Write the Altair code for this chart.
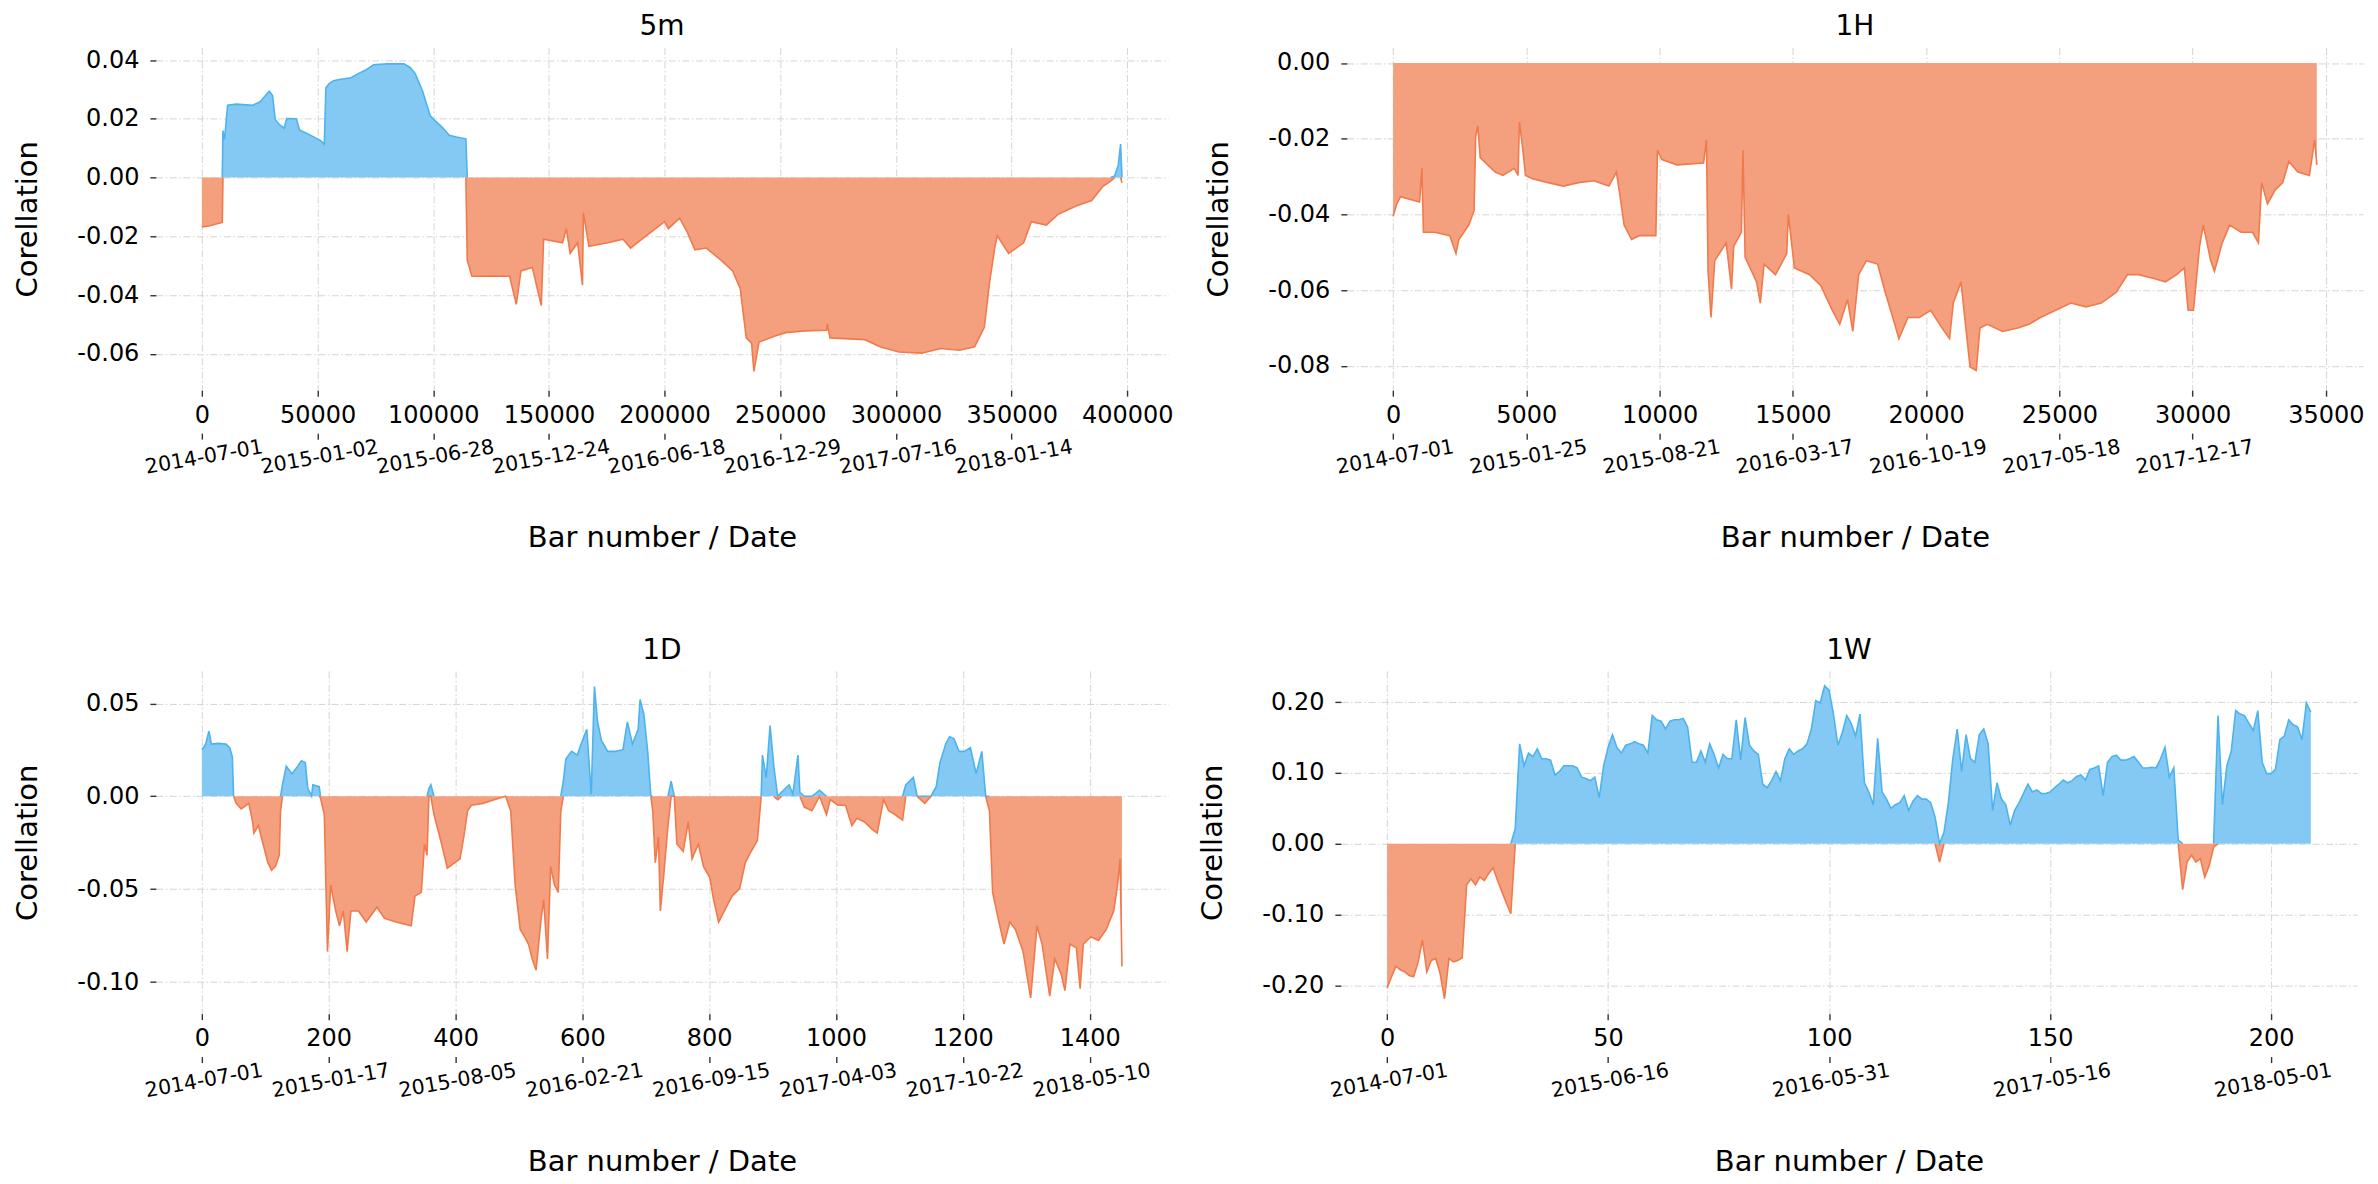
import altair as alt
import pandas as pd

FONT = "DejaVu Sans"
BLUE_FILL = "#83C9F3"
BLUE_LINE = "#4DB3EE"
ORANGE_FILL = "#F4A07F"
ORANGE_LINE = "#F07A4C"

# ---------------- 5m ----------------
m5_x = [0, 3000, 8800, 9100, 9800, 11100, 15000, 21900, 25200, 27000, 29100, 30500, 31700, 33500,
        35600, 36600, 40800, 42200, 46000, 51300, 52900, 53600, 55000, 56900, 60000, 64400, 67600,
        70800, 74200, 80000, 87300, 90000, 92200, 95400, 98700, 101000, 104000, 106900, 110000,
        114100, 114700, 116700, 125000, 133000, 135900, 137900, 142800, 146700, 147700, 155900,
        157500, 159200, 162400, 164500, 164900, 167300, 175500, 182000, 185300, 190200, 195100,
        200000, 201600, 206500, 209800, 213100, 218000, 224500, 229400, 232700, 235300, 237600,
        238600, 240800, 247400, 252300, 260500, 270000, 270300, 271500, 286600, 293100, 301300,
        311100, 319300, 327500, 334000, 338200, 340500, 342800, 343800, 348700, 355200, 358500,
        365000, 369900, 373200, 378100, 384600, 389500, 392800, 394500, 396100, 397100, 397700]
m5_v = [-0.0168, -0.0165, -0.0153, 0.0160, 0.0130, 0.0246, 0.0250, 0.0246, 0.0258, 0.0275, 0.0294,
        0.0280, 0.0198, 0.0180, 0.0168, 0.0201, 0.0200, 0.0162, 0.0148, 0.0126, 0.0114, 0.0306,
        0.0320, 0.0330, 0.0335, 0.0340, 0.0354, 0.0366, 0.0384, 0.0387, 0.0387, 0.0375, 0.0354,
        0.0294, 0.0210, 0.0192, 0.0170, 0.0144, 0.0138, 0.0132, -0.0282, -0.0336, -0.0335,
        -0.0336, -0.0432, -0.0318, -0.0306, -0.0436, -0.0210, -0.0222, -0.0174, -0.0258, -0.0222,
        -0.0366, -0.0120, -0.0234, -0.0222, -0.0210, -0.0240, -0.0210, -0.0180, -0.0150, -0.0174,
        -0.0138, -0.0186, -0.0246, -0.0240, -0.0282, -0.0318, -0.0378, -0.0546, -0.0564, -0.0660,
        -0.0560, -0.0540, -0.0528, -0.0522, -0.0520, -0.0498, -0.0546, -0.0552, -0.0576, -0.0594,
        -0.0598, -0.0582, -0.0588, -0.0576, -0.0510, -0.0354, -0.0234, -0.0198, -0.0258, -0.0222,
        -0.0150, -0.0162, -0.0126, -0.0114, -0.0096, -0.0078, -0.0030, -0.0012, 0.0005, 0.0042,
        0.0114, -0.0018]
m5_xticks = [0, 50000, 100000, 150000, 200000, 250000, 300000, 350000, 400000]
m5_yticks = [-0.06, -0.04, -0.02, 0.00, 0.02, 0.04]
m5_dates = ["2014-07-01", "2015-01-02", "2015-06-28", "2015-12-24", "2016-06-18",
            "2016-12-29", "2017-07-16", "2018-01-14"]

# ---------------- 1H ----------------
h1_x = [0, 142, 280, 994, 1080, 1140, 1560, 2130, 2360, 2470, 2840, 3040, 3100, 3180, 3270, 3550,
        3835, 4120, 4550, 4690, 4740, 4860, 4970, 5260, 5820, 6390, 6960, 7530, 8100, 8380, 8520,
        8670, 8950, 9230, 9860, 9920, 10090, 10650, 11650, 11760, 11820, 11930, 12070, 12500,
        12700, 12780, 13070, 13130, 13210, 13640, 13780, 13920, 14350, 14770, 14830, 15060, 15630,
        16050, 16480, 16760, 17050, 17250, 17470, 17760, 18180, 18470, 18750, 18980, 19320, 19750,
        20170, 20600, 20880, 21020, 21310, 21450, 21650, 21880, 22020, 22300, 22870, 23440, 23860,
        24290, 24860, 25430, 26000, 26570, 27130, 27560, 27980, 28550, 28980, 29400, 29690, 29830,
        30030, 30260, 30400, 30680, 30820, 31110, 31390, 31820, 32250, 32470, 32590, 32810, 33100,
        33380, 33610, 33950, 34380, 34580, 34660]
h1_v = [-0.0405, -0.0372, -0.0353, -0.0367, -0.0278, -0.0447, -0.0447, -0.0456, -0.0503, -0.0466,
        -0.0428, -0.0390, -0.0194, -0.0166, -0.0250, -0.0269, -0.0288, -0.0297, -0.0278, -0.0297,
        -0.0156, -0.0222, -0.0297, -0.0306, -0.0316, -0.0325, -0.0316, -0.0311, -0.0325, -0.0288,
        -0.0353, -0.0428, -0.0466, -0.0456, -0.0456, -0.0231, -0.0255, -0.0269, -0.0264, -0.0203,
        -0.0550, -0.0672, -0.0522, -0.0475, -0.0597, -0.0484, -0.0447, -0.0231, -0.0513, -0.0578,
        -0.0634, -0.0531, -0.0559, -0.0503, -0.0400, -0.0541, -0.0559, -0.0588, -0.0653, -0.0690,
        -0.0625, -0.0709, -0.0559, -0.0522, -0.0531, -0.0606, -0.0672, -0.0728, -0.0672, -0.0672,
        -0.0653, -0.0700, -0.0728, -0.0634, -0.0578, -0.0672, -0.0803, -0.0812, -0.0700, -0.0690,
        -0.0709, -0.0700, -0.0690, -0.0672, -0.0653, -0.0634, -0.0644, -0.0634, -0.0606, -0.0559,
        -0.0559, -0.0569, -0.0578, -0.0559, -0.0541, -0.0653, -0.0653, -0.0484, -0.0428, -0.0522,
        -0.0550, -0.0475, -0.0428, -0.0447, -0.0447, -0.0475, -0.0316, -0.0372, -0.0335, -0.0316,
        -0.0260, -0.0288, -0.0297, -0.0203, -0.0269]
h1_xticks = [0, 5000, 10000, 15000, 20000, 25000, 30000, 35000]
h1_yticks = [-0.08, -0.06, -0.04, -0.02, 0.00]
h1_dates = ["2014-07-01", "2015-01-25", "2015-08-21", "2016-03-17", "2016-10-19",
            "2017-05-18", "2017-12-17"]

# ---------------- 1D ----------------
d1_x = [0, 6, 11, 15, 26, 38, 44, 48, 50, 54, 62, 74, 80, 82, 89, 98, 104, 110, 116, 122, 124, 127,
        133, 142, 149, 157, 163, 167, 173, 175, 185, 187, 193, 198, 203, 211, 217, 223, 229, 235,
        247, 259, 276, 288, 306, 330, 336, 346, 351, 355, 358, 361, 366, 378, 387, 399, 407, 413,
        419, 425, 443, 461, 479, 487, 494, 502, 509, 515, 521, 527, 535, 539, 545, 550, 556, 562,
        566, 570, 574, 583, 592, 598, 607, 614, 619, 624, 630, 640, 652, 664, 671, 679, 688, 691,
        697, 703, 708, 711, 715, 720, 723, 728, 735, 740, 745, 749, 759, 767, 773, 783, 791, 801,
        807, 815, 824, 836, 848, 857, 866, 876, 882, 884, 890, 896, 902, 908, 914, 926, 932, 940,
        943, 950, 962, 974, 985, 991, 1003, 1015, 1025, 1033, 1045, 1057, 1065, 1075, 1083, 1093,
        1105, 1110, 1116, 1122, 1128, 1140, 1150, 1158, 1164, 1173, 1179, 1186, 1194, 1202, 1212,
        1221, 1230, 1236, 1242, 1247, 1257, 1265, 1274, 1283, 1295, 1307, 1317, 1325, 1337, 1345,
        1355, 1361, 1369, 1379, 1385, 1390, 1402, 1414, 1426, 1438, 1444, 1448, 1451]
d1_v = [0.0251, 0.0281, 0.0351, 0.0281, 0.0285, 0.0281, 0.0261, 0.0212, 0.0000, -0.0038, -0.0068,
        -0.0038, -0.0138, -0.0198, -0.0158, -0.0277, -0.0357, -0.0397, -0.0377, -0.0317, -0.0078,
        0.0062, 0.0162, 0.0122, 0.0152, 0.0192, 0.0182, 0.0042, 0.0002, 0.0062, 0.0052, -0.0008,
        -0.0098, -0.0836, -0.0477, -0.0617, -0.0697, -0.0617, -0.0836, -0.0617, -0.0617, -0.0677,
        -0.0597, -0.0657, -0.0677, -0.0697, -0.0537, -0.0517, -0.0257, -0.0317, 0.0042, 0.0062,
        -0.0098, -0.0257, -0.0387, -0.0357, -0.0337, -0.0218, -0.0078, -0.0048, -0.0038, -0.0018,
        0.0000, -0.0078, -0.0477, -0.0717, -0.0757, -0.0796, -0.0876, -0.0936, -0.0657, -0.0557,
        -0.0876, -0.0377, -0.0477, -0.0517, -0.0078, 0.0082, 0.0202, 0.0242, 0.0222, 0.0281,
        0.0361, 0.0010, 0.0591, 0.0401, 0.0301, 0.0242, 0.0242, 0.0251, 0.0401, 0.0281, 0.0361,
        0.0521, 0.0441, 0.0242, 0.0002, -0.0078, -0.0357, -0.0218, -0.0617, -0.0437, -0.0158,
        0.0082, 0.0000, -0.0257, -0.0297, -0.0138, -0.0337, -0.0257, -0.0377, -0.0437, -0.0557,
        -0.0677, -0.0617, -0.0537, -0.0497, -0.0357, -0.0297, -0.0238, 0.0000, 0.0222, 0.0102,
        0.0381, 0.0162, -0.0018, 0.0022, 0.0062, 0.0012, 0.0222, 0.0022, -0.0058, -0.0078, 0.0032,
        -0.0098, -0.0018, -0.0048, -0.0048, -0.0158, -0.0118, -0.0138, -0.0178, -0.0198, -0.0018,
        -0.0078, -0.0098, -0.0128, 0.0062, 0.0082, 0.0102, 0.0002, -0.0038, 0.0002, 0.0052, 0.0182,
        0.0281, 0.0321, 0.0311, 0.0242, 0.0242, 0.0261, 0.0122, 0.0242, 0.0002, -0.0078, -0.0517,
        -0.0677, -0.0796, -0.0677, -0.0717, -0.0836, -0.1086, -0.0697, -0.0796, -0.1076, -0.0876,
        -0.0956, -0.1046, -0.0796, -0.0816, -0.1036, -0.0796, -0.0756, -0.0776, -0.0717, -0.0617,
        -0.0477, -0.0337, -0.0916]
d1_xticks = [0, 200, 400, 600, 800, 1000, 1200, 1400]
d1_yticks = [-0.10, -0.05, 0.00, 0.05]
d1_dates = ["2014-07-01", "2015-01-17", "2015-08-05", "2016-02-21", "2016-09-15",
            "2017-04-03", "2017-10-22", "2018-05-10"]

# ---------------- 1W ----------------
w1_x = list(range(210))
w1_v = [-0.204, -0.188, -0.173, -0.178, -0.181, -0.186, -0.188, -0.168, -0.136, -0.181,
        -0.165, -0.162, -0.183, -0.219, -0.162, -0.167, -0.165, -0.161, -0.058, -0.050,
        -0.058, -0.047, -0.052, -0.042, -0.034, -0.052, -0.068, -0.084, -0.099, 0.021,
        0.141, 0.110, 0.128, 0.123, 0.134, 0.120, 0.120, 0.118, 0.097, 0.102,
        0.110, 0.110, 0.110, 0.107, 0.094, 0.092, 0.089, 0.094, 0.065, 0.110,
        0.136, 0.154, 0.136, 0.128, 0.139, 0.141, 0.144, 0.141, 0.139, 0.128,
        0.181, 0.175, 0.173, 0.162, 0.173, 0.175, 0.175, 0.177, 0.165, 0.115,
        0.115, 0.131, 0.115, 0.141, 0.126, 0.107, 0.126, 0.120, 0.120, 0.175,
        0.118, 0.178, 0.139, 0.131, 0.126, 0.084, 0.079, 0.089, 0.102, 0.089,
        0.120, 0.134, 0.126, 0.131, 0.134, 0.141, 0.162, 0.202, 0.199, 0.223,
        0.217, 0.183, 0.139, 0.157, 0.181, 0.170, 0.152, 0.183, 0.086, 0.073,
        0.055, 0.149, 0.073, 0.063, 0.050, 0.055, 0.058, 0.068, 0.047, 0.060,
        0.068, 0.063, 0.063, 0.058, 0.037, -0.026, 0.016, 0.058, 0.120, 0.162,
        0.102, 0.154, 0.120, 0.115, 0.154, 0.162, 0.141, 0.047, 0.086, 0.063,
        0.055, 0.026, 0.047, 0.058, 0.071, 0.084, 0.073, 0.076, 0.071, 0.071,
        0.073, 0.079, 0.084, 0.090, 0.086, 0.089, 0.095, 0.097, 0.090, 0.105,
        0.107, 0.110, 0.068, 0.115, 0.123, 0.125, 0.118, 0.118, 0.120, 0.123,
        0.115, 0.107, 0.107, 0.108, 0.107, 0.120, 0.136, 0.094, 0.107, 0.005,
        -0.065, -0.026, -0.016, -0.026, -0.021, -0.047, -0.031, -0.005, 0.181, 0.055,
        0.110, 0.131, 0.188, 0.183, 0.181, 0.170, 0.160, 0.188, 0.115, 0.099,
        0.099, 0.105, 0.147, 0.152, 0.175, 0.168, 0.165, 0.147, 0.199, 0.186]
w1_xticks = [0, 50, 100, 150, 200]
w1_yticks = [-0.20, -0.10, 0.00, 0.10, 0.20]
w1_dates = ["2014-07-01", "2015-06-16", "2016-05-31", "2017-05-16", "2018-05-01"]


def prep(xs, vs):
    df = pd.DataFrame({"x": xs, "v": vs})
    df["pos"] = df["v"].clip(lower=0)
    df["neg"] = df["v"].clip(upper=0)
    return df


def line_segments(df):
    v = df["v"]
    prev = v.shift(1)
    nxt = v.shift(-1)
    rows = []
    for sign, ok, col in (("p", (v >= 0) | (prev > 0) | (nxt > 0), "pos"),
                          ("n", (v <= 0) | (prev < 0) | (nxt < 0), "neg")):
        seg = 0
        inside = False
        for i in range(len(df)):
            if bool(ok.iloc[i]):
                if not inside:
                    seg += 1
                    inside = True
                rows.append({"x": df["x"].iloc[i], "y": df[col].iloc[i],
                             "sign": sign, "seg": f"{sign}{seg}"})
            else:
                inside = False
    return pd.DataFrame(rows)


GRID = dict(grid=True, gridColor="#d4d4d4", gridDash=[7, 2.5, 1.5, 2.5], gridWidth=1)
COMMON = dict(labelFont=FONT, titleFont=FONT, labelColor="#000000", titleColor="#000000",
              tickColor="#333333", tickWidth=1.4, domain=False, labelOverlap=False)


def panel(title, xs, vs, xdom, ydom, xticks, yticks, yfmt, dates, dstep, w, h):
    df = prep(xs, vs)
    ldf = line_segments(df)
    xsc = alt.Scale(domain=xdom, nice=False, zero=False)
    ysc = alt.Scale(domain=ydom, nice=False, zero=False)
    yaxis = alt.Axis(values=yticks, labelExpr=f"replace(format(datum.value, '{yfmt}'), '\u2212', '-')",
                     title="Corellation", titleFontSize=29, titleFontWeight="normal",
                     titlePadding=34, labelFontSize=24, labelPadding=11, tickSize=6,
                     **COMMON, **GRID)
    xaxis = alt.Axis(values=xticks, format="d", title=None, labelFontSize=24, labelPadding=7,
                     tickSize=6, **COMMON, **GRID)
    darr = "[" + ",".join(f"'{d}'" for d in dates) + "]"
    dvals = [i * dstep for i in range(len(dates))]
    daxis = alt.Axis(values=dvals, labelExpr=f"{darr}[round(datum.value / {dstep})]",
                     orient="bottom", offset=43, labelAngle=-10, labelAlign="center",
                     labelBaseline="top", labelFontSize=20.5, labelPadding=8, tickSize=6,
                     grid=False, title="Bar number / Date", titleFontSize=29,
                     titleFontWeight="normal", titlePadding=46, **COMMON)

    pos = alt.Chart(df).mark_area(color=BLUE_FILL).encode(
        x=alt.X("x:Q", scale=xsc, axis=xaxis),
        y=alt.Y("pos:Q", scale=ysc, axis=yaxis),
        y2=alt.datum(0))
    neg = alt.Chart(df).mark_area(color=ORANGE_FILL).encode(
        x=alt.X("x:Q", scale=xsc, axis=None),
        y=alt.Y("neg:Q", scale=ysc, axis=yaxis),
        y2=alt.datum(0))
    lines = alt.Chart(ldf).mark_line(strokeWidth=1.6).encode(
        x=alt.X("x:Q", scale=xsc, axis=None),
        y=alt.Y("y:Q", scale=ysc, axis=yaxis),
        color=alt.Color("sign:N", scale=alt.Scale(domain=["p", "n"], range=[BLUE_LINE, ORANGE_LINE]),
                        legend=None),
        detail="seg:N")
    dlayer = alt.Chart(df).mark_point(opacity=0).encode(
        x=alt.X("x:Q", scale=xsc, axis=daxis),
        y=alt.Y("v:Q", scale=ysc, axis=yaxis))
    return alt.layer(pos, neg, lines, dlayer).resolve_axis(x="independent").properties(
        width=w, height=h,
        title=alt.TitleParams(text=title, fontSize=28, fontWeight="normal", font=FONT,
                              color="#000000", offset=6))


p5m = panel("5m", m5_x, m5_v, [-19900, 417600], [-0.0724, 0.0443], m5_xticks, m5_yticks, ".2f",
            m5_dates, 50000, 1013, 343)
p1h = panel("1H", h1_x, h1_v, [-1733, 36393], [-0.0864, 0.0041], h1_xticks, h1_yticks, ".2f",
            h1_dates, 5000, 1017, 343)
p1d = panel("1D", d1_x, d1_v, [-72.6, 1523.6], [-0.1170, 0.0675], d1_xticks, d1_yticks, ".2f",
            d1_dates, 200, 1013, 343)
p1w = panel("1W", w1_x, w1_v, [-10.45, 219.45], [-0.240, 0.244], w1_xticks, w1_yticks, ".2f",
            w1_dates, 50, 1017, 343)

chart = alt.vconcat(
    alt.hconcat(p5m, p1h, spacing=30),
    alt.hconcat(p1d, p1w, spacing=30),
    spacing=84,
).properties(background="white").configure_view(stroke=None)

chart.save("out.html", embed_options={"renderer": "svg", "actions": False})
